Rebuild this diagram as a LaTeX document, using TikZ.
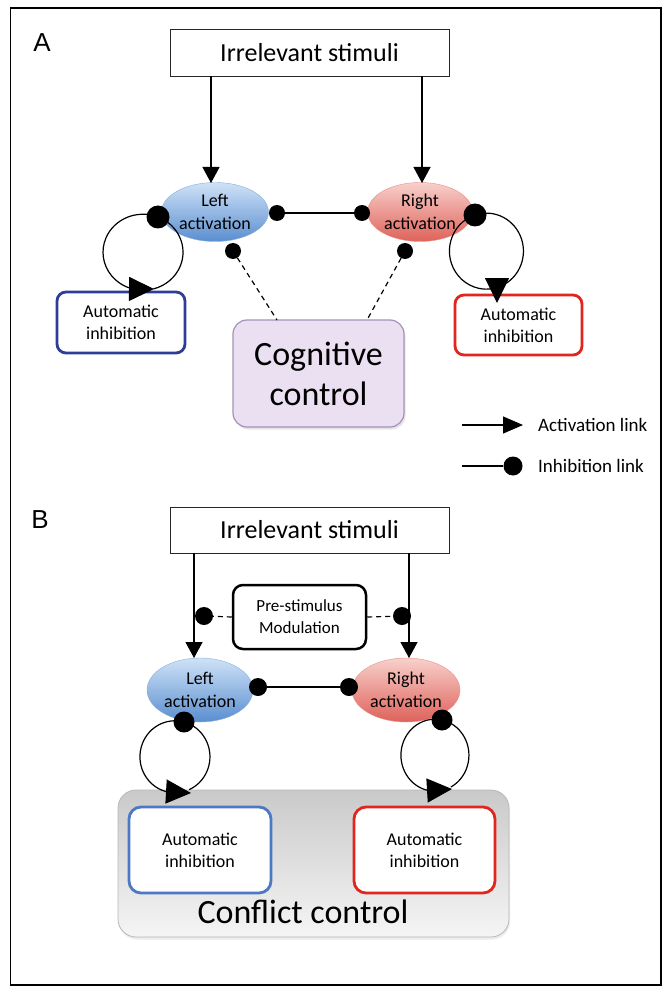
\documentclass[tikz,border=0pt]{standalone}
\usepackage{fontspec}
\setmainfont{Carlito}
\newfontfamily\labfont{Liberation Sans}
\usetikzlibrary{arrows.meta,shapes.geometric,shadows}
\definecolor{blueTop}{HTML}{CFE2F6}
\definecolor{blueBot}{HTML}{5A8ED0}
\definecolor{redTop}{HTML}{F8D0CB}
\definecolor{redBot}{HTML}{DE625A}
\definecolor{autoBlueA}{HTML}{2E3E98}
\definecolor{autoBlueB}{HTML}{4D78C4}
\definecolor{autoRed}{HTML}{E0261E}
\definecolor{ccFill}{HTML}{EBE0F2}
\definecolor{ccDraw}{HTML}{A493B8}
\begin{document}
\begin{tikzpicture}[x=1pt,y=-1pt,
  every node/.style={inner sep=0pt},
  act/.style={line width=1.2pt,-{Triangle[length=16pt,width=17pt]}},
  actleg/.style={line width=1.2pt,-{Triangle[length=20pt,width=17pt]}},
  loopact/.style={line width=1.2pt,-{Triangle[length=25pt,width=24pt]}},
  loopline/.style={line width=1.2pt},
  inh/.style={line width=1.2pt},
  dsh/.style={line width=1.2pt,dash pattern=on 5pt off 4pt},
  sdot/.style={circle,fill=black,minimum size=16pt},
  mdot/.style={circle,fill=black,minimum size=18pt},
  bdot/.style={circle,fill=black,minimum size=23pt},
  panellab/.style={font=\labfont\fontsize{26}{30}\selectfont},
  stimbox/.style={draw=black!85,line width=0.9pt,fill=white,minimum width=279pt,minimum height=47pt,font=\fontsize{26}{30}\selectfont},
  actL/.style={ellipse,top color=blueTop,bottom color=blueBot,draw=blueBot!70,line width=0.4pt,align=center,font=\fontsize{18}{23}\selectfont},
  actR/.style={ellipse,top color=redTop,bottom color=redBot,draw=redBot!70,line width=0.4pt,align=center,font=\fontsize{18}{23}\selectfont},
  autobox/.style={rectangle,rounded corners=9pt,fill=white,line width=2.8pt,align=center,font=\fontsize{18}{22}\selectfont},
  ccbox/.style={rectangle,rounded corners=14pt,fill=ccFill,draw=ccDraw,line width=1.2pt,align=center,font=\fontsize{34}{40}\selectfont,minimum width=171pt,minimum height=107pt,drop shadow={opacity=0.2,shadow xshift=1.5pt,shadow yshift=-2.5pt}},
  prebox/.style={rectangle,rounded corners=10pt,fill=white,draw=black,line width=2.5pt,align=center,font=\fontsize{17}{22}\selectfont,minimum width=133pt,minimum height=64pt},
  grayblock/.style={rectangle,rounded corners=18pt,top color=black!21,middle color=black!26,bottom color=black!4,draw=black!28,line width=0.8pt,minimum width=391pt,minimum height=147pt,drop shadow={opacity=0.15,shadow xshift=1pt,shadow yshift=-2.5pt}},
  legtext/.style={anchor=west,font=\fontsize{19}{22}\selectfont}
]
\fill[white] (0,0) rectangle (669,992);
\useasboundingbox (0,0) rectangle (669,992);
\draw[line width=1.3pt] (10.5,8) rectangle (661,985);

% ---------------- Panel A ----------------
\node[panellab] (labA) at (42,43) {A};
\node[stimbox] (stimA) at (309.5,52.5) {Irrelevant stimuli};
\node[actL,minimum width=107pt,minimum height=59pt] (LA) at (215,212) {Left\\activation};
\node[actR,minimum width=105pt,minimum height=59pt] (RA) at (420,212) {Right\\activation};
\coordinate (tLA) at (211,183);
\coordinate (tRA) at (422,183);
\draw[act] (stimA.south -| tLA) -- (tLA);
\draw[act] (stimA.south -| tRA) -- (tRA);

\node[autobox,draw=autoBlueA,minimum width=128pt,minimum height=61pt] (aiLA) at (121,322.5) {Automatic\\inhibition};
\node[autobox,draw=autoRed,minimum width=127pt,minimum height=60pt] (aiRA) at (518.5,325) {Automatic\\inhibition};
\node[ccbox] (cc) at (318.5,373.5) {Cognitive\\control};

\node[sdot] (iLA) at (277,213) {};
\node[sdot] (iRA) at (362,213) {};
\draw[inh] (iLA) -- (iRA);

\node[sdot] (cLA) at (233,251) {};
\node[sdot] (cRA) at (405,251) {};
\coordinate (ccL) at (277,320);
\coordinate (ccR) at (367,320);
\draw[dsh] (cLA) -- (ccL);
\draw[dsh] (cRA) -- (ccR);

\node[bdot] (sLA) at (158,217) {};
\node[bdot] (sRA) at (475,215) {};
\coordinate (tipLA) at (154,289);
\draw[loopact] (sLA.center) arc[start angle=68,end angle=255,x radius=40pt,y radius=38pt] -- (tipLA);
\draw[loopline] (sLA.center) arc[start angle=68,end angle=-75,x radius=40pt,y radius=38pt];
\coordinate (tipRA) at (497,303);
\draw[loopact] (sRA.center) arc[start angle=108,end angle=-60,x radius=37pt,y radius=38pt]
  .. controls +(-5,3) and +(0,-8) .. (tipRA);
\draw[loopline] (sRA.center) arc[start angle=108,end angle=300,x radius=37pt,y radius=38pt];

% legend
\coordinate (lgA1) at (462,425);
\coordinate (lgA2) at (523,425);
\draw[actleg] (lgA1) -- (lgA2);
\node[legtext] (lgAt) at (538,425) {Activation link};
\coordinate (lgI1) at (462,466);
\node[circle,fill=black,minimum size=19pt] (lgI2) at (513,466) {};
\draw[inh] (lgI1) -- (lgI2);
\node[legtext] (lgIt) at (538,466) {Inhibition link};

% ---------------- Panel B ----------------
\node[panellab] (labB) at (40,520) {B};
\node[stimbox,minimum height=46pt] (stimB) at (309.5,530) {Irrelevant stimuli};
\node[prebox] (pre) at (299.5,617) {Pre-stimulus\\Modulation};
\node[actL,minimum width=106pt,minimum height=64pt] (LB) at (200,690) {Left\\activation};
\node[actR,minimum width=108pt,minimum height=64pt] (RB) at (406,690) {Right\\activation};
\coordinate (tLB) at (194,658);
\coordinate (tRB) at (409,658);
\draw[act] (stimB.south -| tLB) -- (tLB);
\draw[act] (stimB.south -| tRB) -- (tRB);

\node[mdot] (pLB) at (204,616) {};
\node[mdot] (pRB) at (402,616) {};
\draw[dsh] (pre.west) -- (pLB);
\draw[dsh] (pre.east) -- (pRB);

\node[mdot] (iLB) at (258,687) {};
\node[mdot] (iRB) at (349,687) {};
\draw[inh] (iLB) -- (iRB);

\node[grayblock] (cfl) at (313.5,863.5) {};
\node[font=\fontsize{34}{40}\selectfont] (cflt) at (303,912) {Conflict control};
\node[autobox,draw=autoBlueB,minimum width=142pt,minimum height=86pt,rounded corners=12pt] (aiLB) at (200,850) {Automatic\\inhibition};
\node[autobox,draw=autoRed,minimum width=141pt,minimum height=86pt,rounded corners=12pt] (aiRB) at (424.5,850) {Automatic\\inhibition};

\node[bdot,minimum size=21pt] (sLB) at (184,722) {};
\node[bdot,minimum size=21pt] (sRB) at (442,720) {};
\coordinate (tipLB) at (191,793);
\draw[loopact] (sLB.center) arc[start angle=75,end angle=255,x radius=35pt,y radius=36pt] -- (tipLB);
\draw[loopline] (sLB.center) arc[start angle=75,end angle=-66,x radius=35pt,y radius=36pt];
\coordinate (tipRB) at (452,789);
\draw[loopact] (sRB.center) arc[start angle=78,end angle=258,x radius=34pt,y radius=36pt] -- (tipRB);
\draw[loopline] (sRB.center) arc[start angle=78,end angle=-62,x radius=34pt,y radius=36pt];
\end{tikzpicture}
\end{document}
